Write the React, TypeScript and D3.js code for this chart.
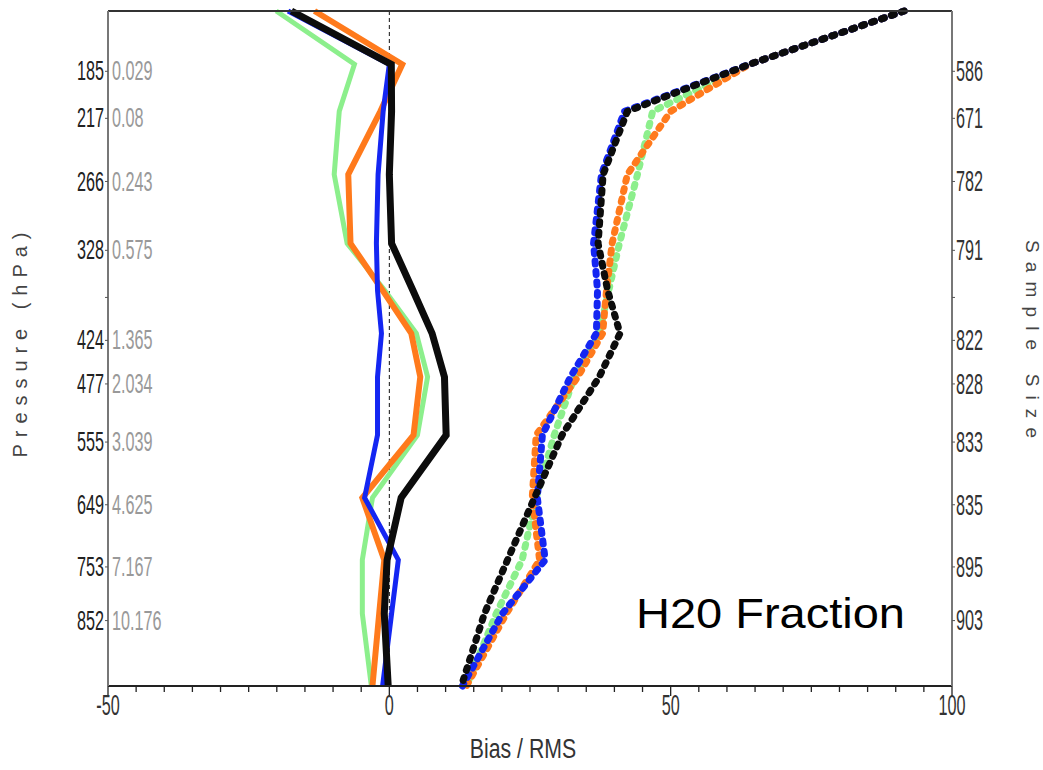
import * as d3 from "d3";

// pressure levels (hPa) where the profiles have vertices; ends = plot top/bottom
const levels = [153, 185, 217, 266, 328, 376, 424, 477, 555, 649, 753, 852, 1000];

// labelled levels on the axes
const tickLevels = [185, 217, 266, 328, 376, 424, 477, 555, 649, 753, 852];
const pressureLabels = ["185", "217", "266", "328", "", "424", "477", "555", "649", "753", "852"];
const fractionLabels = ["0.029", "0.08", "0.243", "0.575", "", "1.365", "2.034", "3.039", "4.625", "7.167", "10.176"];
const sampleLabels = ["586", "671", "782", "791", "", "822", "828", "833", "835", "895", "903"];
const xTicks = [-50, 0, 50, 100];

// bias (solid lines)
const greenBias = [-20.1, -6.2, -8.9, -9.8, -7.5, -0.8, 4.8, 6.8, 5.0, -3.0, -4.8, -4.8, -3.2];
const orangeBias = [-13.3, 2.3, -1.6, -7.3, -6.9, -1.2, 3.9, 5.5, 4.3, -4.8, -0.9, -1.8, -3.0];
const blueBias = [-18.0, 0.0, -1.1, -2.0, -2.3, -2.1, -1.4, -2.1, -2.1, -4.4, 1.6, 0.4, -1.2];
const blackBias = [-17.4, 0.35, 0.4, 0.0, 0.4, 4.2, 7.6, 9.8, 10.1, 2.1, -0.4, -0.9, -0.2];

// rms (dotted lines)
const greenRms = [91.5, 64.0, 46.8, 44.1, 40.9, 39.0, 37.3, 32.9, 29.3, 26.1, 23.6, 19.0, 13.7];
const orangeRms = [91.5, 64.0, 50.0, 42.3, 39.6, 38.6, 37.9, 33.5, 26.1, 25.4, 26.7, 20.8, 13.7];
const blueRms = [91.5, 64.0, 41.8, 37.7, 36.3, 37.0, 36.8, 32.2, 27.2, 26.3, 27.7, 20.1, 13.0];
const blackRms = [91.5, 64.0, 42.3, 38.0, 37.1, 38.8, 41.0, 37.3, 30.7, 25.8, 21.0, 16.9, 12.8];

const GREEN = "#8cef8c";
const ORANGE = "#ff7a1c";
const BLUE = "#1426f2";
const BLACK = "#0c0c0c";

const W = 1043;
const H = 770;
const margin = { top: 11, right: 91, bottom: 84, left: 108 };

const x = d3.scaleLinear().domain([-50, 100]).range([margin.left, W - margin.right]);
const y = d3
  .scalePow()
  .exponent(0.28)
  .domain([levels[0], levels[levels.length - 1]])
  .range([margin.top, H - margin.bottom]);

const line = d3
  .line<number>()
  .x((d) => x(d))
  .y((_, i) => y(levels[i]));

const series = [
  { vals: greenBias, color: GREEN, w: 5, dotted: false },
  { vals: orangeBias, color: ORANGE, w: 6, dotted: false },
  { vals: blueBias, color: BLUE, w: 5, dotted: false },
  { vals: blackBias, color: BLACK, w: 7, dotted: false },
  { vals: greenRms, color: GREEN, w: 7, dotted: true },
  { vals: orangeRms, color: ORANGE, w: 7, dotted: true },
  { vals: blueRms, color: BLUE, w: 7, dotted: true },
  { vals: blackRms, color: BLACK, w: 7, dotted: true },
];

// narrow, tall numerals like the original (squeezed horizontally)
const numFont = "Liberation Sans, Arial, sans-serif";
const labelShift = 7;

const NumText = ({ x: tx, y: ty, s, anchor, fill, size = 29 }: any) => (
  <g transform={`translate(${tx},${ty}) scale(${9 / (0.556 * size)},1)`}>
    <text
      fontFamily={numFont}
      fontSize={size}
      textAnchor={anchor}
      dominantBaseline="central"
      fill={fill}
    >
      {s}
    </text>
  </g>
);

export default function App() {
  const [x0, x1] = x.range();
  const [y0, y1] = y.range();
  const minor = d3.range(-50, 101, 5);

  return (
    <svg width={W} height={H} style={{ position: "absolute", left: 0, top: 0, background: "#fff" }}>
      {/* zero line */}
      <line x1={x(0)} x2={x(0)} y1={y0} y2={y1} stroke="#111" strokeWidth={1} strokeDasharray="4 3" />

      {series.map((s, i) => (
        <path
          key={i}
          d={line(s.vals) || ""}
          fill="none"
          stroke={s.color}
          strokeWidth={s.w}
          strokeDasharray={s.dotted ? "3 7.5" : undefined}
          strokeLinecap={s.dotted ? "round" : "butt"}
        />
      ))}

      {/* frame */}
      <line x1={x0} x2={x1} y1={y0} y2={y0} stroke="#333" strokeWidth={2} />
      <line x1={x0} x2={x1} y1={y1} y2={y1} stroke="#222" strokeWidth={2} />
      <line x1={x0} x2={x0} y1={y0} y2={y1} stroke="#777" strokeWidth={2} />
      <line x1={x1} x2={x1} y1={y0} y2={y1} stroke="#777" strokeWidth={2} />

      {/* bottom ticks */}
      {minor.map((v) => (
        <line
          key={v}
          x1={x(v)}
          x2={x(v)}
          y1={y1}
          y2={y1 + (v % 50 === 0 ? 10 : 6)}
          stroke="#222"
          strokeWidth={1.3}
        />
      ))}
      {xTicks.map((v) => (
        <NumText key={v} x={x(v)} y={y1 + 19} s={String(v)} anchor="middle" fill="#333" />
      ))}

      {/* left / right ticks and labels */}
      {tickLevels.map((p, i) => {
        const ty = y(p) + labelShift;
        return (
          <g key={p}>
            <line x1={x0 - 3} x2={x0} y1={ty} y2={ty} stroke="#555" strokeWidth={1} />
            <line x1={x1} x2={x1 + 3} y1={ty} y2={ty} stroke="#555" strokeWidth={1} />
            {pressureLabels[i] && <NumText x={x0 - 4} y={ty} s={pressureLabels[i]} anchor="end" fill="#222" size={27} />}
            {fractionLabels[i] && <NumText x={x0 + 4} y={ty} s={fractionLabels[i]} anchor="start" fill="#999" size={27} />}
            {sampleLabels[i] && <NumText x={x1 + 4} y={ty} s={sampleLabels[i]} anchor="start" fill="#333" />}
          </g>
        );
      })}

      {/* axis titles */}
      <text
        x={27}
        y={345}
        transform="rotate(-90, 27, 345)"
        fontFamily="Liberation Sans, Arial, sans-serif"
        fontSize={20}
        textLength={225}
        lengthAdjust="spacing"
        textAnchor="middle"
        fill="#444"
      >
        Pressure (hPa)
      </text>
      <text
        x={1026}
        y={339}
        transform="rotate(90, 1026, 339)"
        fontFamily="Liberation Sans, Arial, sans-serif"
        fontSize={19}
        textLength={198}
        lengthAdjust="spacing"
        textAnchor="middle"
        fill="#444"
      >
        Sample Size
      </text>
      <g transform={`translate(523,758) scale(0.76,1)`}>
        <text fontFamily={numFont} fontSize={28} textAnchor="middle" fill="#333">
          Bias / RMS
        </text>
      </g>

      <text
        x={636}
        y={628}
        fontFamily="Liberation Sans, Arial, sans-serif"
        fontSize={42}
        textLength={269}
        lengthAdjust="spacingAndGlyphs"
        fill="#000"
      >
        H20 Fraction
      </text>
    </svg>
  );
}
